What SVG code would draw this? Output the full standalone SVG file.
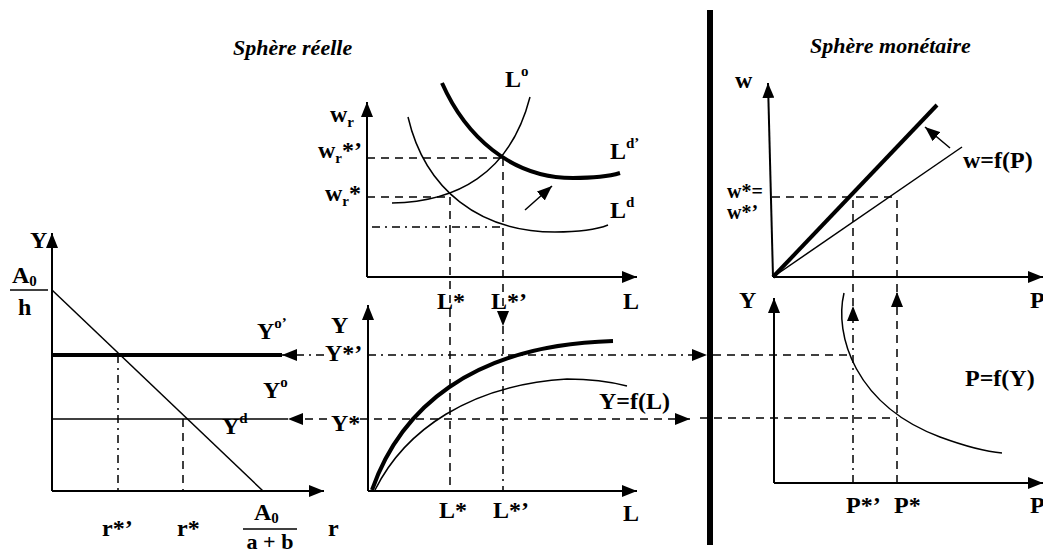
<svg xmlns="http://www.w3.org/2000/svg" width="1043" height="554" viewBox="0 0 1043 554">
<style>
text{font-family:"Liberation Serif","Times New Roman",serif;font-weight:bold;font-size:24px;fill:#000}
.it{font-style:italic;font-size:22px}
.sm{font-size:15px}
.ax{stroke:#000;stroke-width:2;fill:none}
.thin{stroke:#000;stroke-width:1.5;fill:none}
.thick{stroke:#000;stroke-width:4;fill:none}
.da{stroke:#000;stroke-width:1.5;fill:none;stroke-dasharray:8 6}
.dd{stroke:#000;stroke-width:1.5;fill:none;stroke-dasharray:8 5 2 5}
</style>
<defs>
<marker id="ah" viewBox="0 0 15 12" refX="15" refY="6" markerWidth="15" markerHeight="12" markerUnits="userSpaceOnUse" orient="auto">
<path d="M0,0 L15,6 L0,12 z" fill="#000"/>
</marker>
</defs>
<rect width="1043" height="554" fill="#fff"/>

<g id="titles">
<text class="it" x="233" y="55">Sphère réelle</text>
<text class="it" x="810" y="53">Sphère monétaire</text>
</g>

<g id="separator">
<rect x="707" y="10" width="6" height="535" fill="#000"/>
</g>

<g id="panel-goods">
<line class="ax" x1="52" y1="491" x2="52" y2="233" marker-end="url(#ah)"/>
<line class="ax" x1="52" y1="491" x2="324" y2="491" marker-end="url(#ah)"/>
<line class="thin" x1="52" y1="290" x2="263" y2="491"/>
<line class="thick" x1="52" y1="355" x2="282" y2="355"/>
<line class="thin" x1="52" y1="419" x2="288" y2="419"/>
<line class="dd" x1="118" y1="355" x2="118" y2="491"/>
<line class="da" x1="183" y1="419" x2="183" y2="491"/>
<text x="30" y="248">Y</text>
<text x="12" y="283">A<tspan class="sm" dy="3">0</tspan></text>
<line x1="10" y1="290" x2="48" y2="290" stroke="#000" stroke-width="1.5"/>
<text x="18" y="315">h</text>
<text x="257" y="339">Y<tspan class="sm" dy="-11">o’</tspan></text>
<text x="263" y="398">Y<tspan class="sm" dy="-11">o</tspan></text>
<text x="222" y="434">Y<tspan class="sm" dy="-11">d</tspan></text>
<text x="102" y="536">r*’</text>
<text x="177" y="536">r*</text>
<text x="254" y="520">A<tspan class="sm" dy="3">0</tspan></text>
<line x1="243" y1="529" x2="297" y2="529" stroke="#000" stroke-width="1.5"/>
<text x="270" y="549" text-anchor="middle" style="font-size:22px">a + b</text>
<text x="328" y="536">r</text>
</g>

<g id="panel-labour">
<line class="ax" x1="367" y1="277" x2="367" y2="102" marker-end="url(#ah)"/>
<line class="ax" x1="367" y1="277" x2="637" y2="277" marker-end="url(#ah)"/>
<path class="thin" d="M392,203 C455,202 510,175 530,97"/>
<path class="thin" d="M408,117 C425,190 480,232 555,232 C580,232 598,229 608,225"/>
<path class="thick" d="M442,83 C465,135 510,178 573,178 C595,178 610,176 620,173"/>
<line class="da" x1="367" y1="158" x2="502" y2="158"/>
<line class="da" x1="367" y1="197" x2="450" y2="197"/>
<line class="dd" x1="372" y1="227" x2="502" y2="227"/>
<line class="thin" x1="525" y1="210" x2="552" y2="186" marker-end="url(#ah)"/>
<text x="330" y="122">w<tspan class="sm" dy="5">r</tspan></text>
<text x="318" y="158">w<tspan class="sm" dy="5">r</tspan><tspan dy="-5">*’</tspan></text>
<text x="325" y="201">w<tspan class="sm" dy="5">r</tspan><tspan dy="-5">*</tspan></text>
<text x="505" y="87">L<tspan class="sm" dy="-11">o</tspan></text>
<text x="610" y="159">L<tspan class="sm" dy="-11">d’</tspan></text>
<text x="610" y="218">L<tspan class="sm" dy="-11">d</tspan></text>
<text x="437" y="309">L*</text>
<text x="491" y="309">L*’</text>
<text x="623" y="309">L</text>
</g>

<g id="panel-production">
<line class="ax" x1="368" y1="491" x2="368" y2="305" marker-end="url(#ah)"/>
<line class="ax" x1="368" y1="491" x2="637" y2="491" marker-end="url(#ah)"/>
<path class="thick" d="M372,490 C400,410 470,345 613,341"/>
<path class="thin" d="M375,490 C405,430 470,385 567,379 Q600,379 627,386"/>
<text x="331" y="333">Y</text>
<text x="325" y="361">Y*’</text>
<text x="331" y="431">Y*</text>
<text x="599" y="409">Y=f(L)</text>
<text x="439" y="518">L*</text>
<text x="493" y="518">L*’</text>
<text x="623" y="521">L</text>
</g>

<g id="panel-wage">
<line class="ax" x1="773" y1="277" x2="768" y2="83" marker-end="url(#ah)"/>
<line class="ax" x1="773" y1="277" x2="1043" y2="277" marker-end="url(#ah)"/>
<line class="thick" x1="773" y1="277" x2="937" y2="105"/>
<line class="thin" x1="773" y1="277" x2="962" y2="147"/>
<line class="thin" x1="950" y1="148" x2="925" y2="127" marker-end="url(#ah)"/>
<line class="da" x1="772" y1="197" x2="897" y2="197"/>
<text x="735" y="88">w</text>
<text x="963" y="168">w=f(P)</text>
<text x="727" y="198" style="font-size:20px">w*=</text>
<text x="727" y="219" style="font-size:20px">w*’</text>
<text x="1030" y="308">P</text>
</g>

<g id="panel-price">
<line class="ax" x1="774" y1="483" x2="774" y2="298" marker-end="url(#ah)"/>
<line class="ax" x1="774" y1="483" x2="1043" y2="483" marker-end="url(#ah)"/>
<path class="thin" d="M844,293 C834,335 855,405 940,437 C970,448 990,452 1002,453"/>
<text x="739" y="308">Y</text>
<text x="965" y="386">P=f(Y)</text>
<text x="846" y="513">P*’</text>
<text x="894" y="513">P*</text>
<text x="1030" y="513">P</text>
</g>

<g id="connectors">
<line class="dd" x1="324" y1="355" x2="282" y2="355" marker-end="url(#ah)"/>
<line class="da" x1="327" y1="419" x2="288" y2="419" marker-end="url(#ah)"/>
<line class="dd" x1="368" y1="355" x2="707" y2="355" marker-end="url(#ah)"/>
<line class="da" x1="360" y1="419" x2="690" y2="419" marker-end="url(#ah)"/>
<line class="da" x1="713" y1="355" x2="848" y2="355"/>
<line class="da" x1="700" y1="418" x2="897" y2="418"/>
<line class="da" x1="450" y1="197" x2="450" y2="491"/>
<line class="da" x1="503" y1="158" x2="503" y2="326" marker-end="url(#ah)"/>
<line class="dd" x1="503" y1="326" x2="503" y2="491"/>
<line class="dd" x1="853" y1="483" x2="853" y2="306" marker-end="url(#ah)"/>
<line class="da" x1="853" y1="306" x2="853" y2="197"/>
<line class="da" x1="897" y1="483" x2="897" y2="292" marker-end="url(#ah)"/>
<line class="da" x1="897" y1="292" x2="897" y2="197"/>
</g>
</svg>
